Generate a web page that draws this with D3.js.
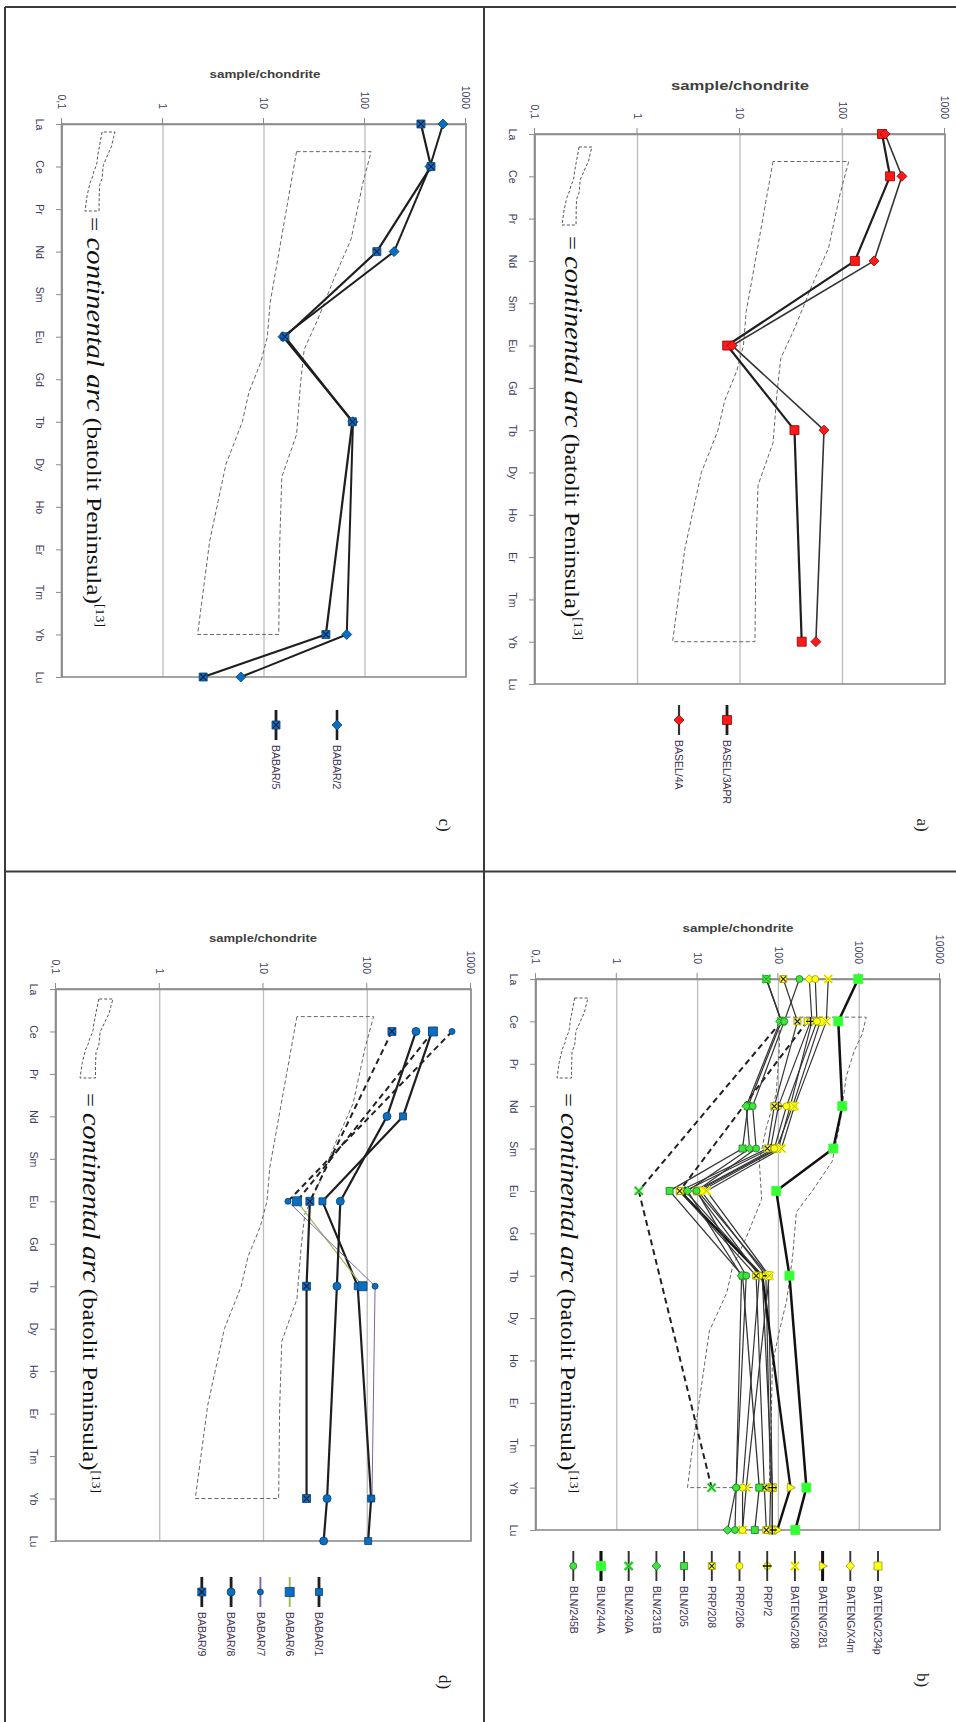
<!DOCTYPE html>
<html>
<head>
<meta charset="utf-8">
<script src="https://cdn.jsdelivr.net/npm/d3@7"></script>
<style>
  body { margin: 0; background: #fff; }
</style>
</head>
<body>
<div id="chart"></div>
<script>
/* global d3 */

// Page. The four charts are drawn upright and the page is turned a quarter turn
const width = 956,
  height = 1722

// Categories and tick labels
const ree = ['La', 'Ce', 'Pr', 'Nd', 'Sm', 'Eu', 'Gd', 'Tb', 'Dy', 'Ho', 'Er', 'Tm', 'Yb', 'Lu']
const valueTicks = [0.1, 1, 10, 100, 1000]
const valueTickLabels = ['0,1', '1', '10', '100', '1000']
const valueTicksB = [0.1, 1, 10, 100, 1000, 10000]
const valueTickLabelsB = ['0,1', '1', '10', '100', '1000', '10000']

// a) BASEL
const namesA = ['BASEL/3APR', 'BASEL/4A']
const basel3APR = [243, 291, null, 132, null, 7.5, null, 34, null, null, null, null, 40, null]
const basel4A = [260, 380, null, 203, null, 8.4, null, 66, null, null, null, null, 55, null]

// b) BLN / PRP / BATENG (legend order)
const namesB = ['BATENG/234p', 'BATENG/X4m', 'BATENG/281', 'BATENG/208', 'PRP/2', 'PRP/206',
  'PRP/208', 'BLN/205', 'BLN/231B', 'BLN/240A', 'BLN/244A', 'BLN/245B']
const bateng234p = [null, 330, null, 150, 95, 10, null, 75, null, null, null, null, 84, 84]
const batengX4m = [241, 260, null, 140, 100, 11, null, 70, null, null, null, null, 80, 78]
const bateng281 = [null, 228, null, null, null, 6.0, null, 63, null, null, null, null, 141, 97]
const bateng208 = [414, 392, null, 158, 109, 12.9, null, 77, null, null, null, null, 40, 36]
const prp2 = [null, 250, null, 100, 80, 7.0, null, 63, null, null, null, null, 84, 84]
const prp206 = [286, 300, null, 126, 89, 9.5, null, 58, null, null, null, null, 36, 36]
const prp208 = [115, 172, null, 89, 73, 6.0, null, 53, null, null, null, null, 67, 71]
const bln205 = [71, 109, null, 42, 36, 4.5, null, 36, null, null, null, null, 58, 51]
const bln231B = [null, 105, null, 40, 44, 7.5, null, 35, null, null, null, null, 30, 23.5]
const bln240A = [71, 109, null, null, null, 1.87, null, null, null, null, null, null, 14.9, null]
const bln244A = [972, 551, null, 617, 478, 94, null, 137, null, null, null, null, 222, 162]
const bln245B = [182, 118, null, 48, 53, 9.7, null, 40, null, null, null, null, 30, 29]

// c) BABAR/2, BABAR/5
const namesC = ['BABAR/2', 'BABAR/5']
const babar2 = [592, 440, null, 194, null, 15.4, null, 76, null, null, null, null, 66, 5.9]
const babar5 = [358, 450, null, 131, null, 16.1, null, 75, null, null, null, null, 41, 2.5]

// d) BABAR/1 .. BABAR/9
const namesD = ['BABAR/1', 'BABAR/6', 'BABAR/7', 'BABAR/8', 'BABAR/9']
const babar1 = [null, 421, null, 221, null, 37, null, 81, null, null, null, null, 109, 102]
const babar6 = [null, 430, null, null, null, 21, null, 90, null, null, null, null, null, null]
const babar7 = [null, 656, null, null, null, 17.2, null, 119, null, null, null, null, 111, null]
const babar8 = [null, 295, null, 155, null, 55, null, 51, null, null, null, null, 41, 38]
const babar9 = [null, 173, null, null, null, 28, null, 26, null, null, null, null, 26, null]

// continental arc field (batolit Peninsula), edges as [REE position, value]
const arcLowIdx = [0.65, 4.2, 5.0, 5.6, 6.3, 7.0, 8.0, 9.8, 12]
const arcLowVal = [21, 11.5, 10.8, 9.3, 7.1, 6.1, 4.2, 2.9, 2.2]
const arcHighIdx = [0.65, 1.4, 2.7, 3.6, 4.6, 5.3, 6.1, 7.3, 8.3, 9.9, 12]
const arcHighVal = [115, 95, 73, 50, 34, 25, 23, 21, 15, 14.3, 14]
// same field as it sits on the wider b) axis
const arcLowIdxB = [0.9, 1.6, 2.7, 3.5, 4.3, 5.2, 6.1, 6.8, 7.4, 8.3, 9.9, 11.0, 12]
const arcLowValB = [103, 103, 94, 71, 58, 62, 40, 27, 23, 14, 10.6, 8.7, 7.5]
const arcHighIdxB = [0.9, 1.3, 1.7, 2.3, 3.5, 4.3, 5.0, 5.5, 6.6, 7.6, 8.3, 9.1, 10.2, 12]
const arcHighValB = [1220, 1090, 867, 692, 566, 464, 263, 167, 149, 126, 103, 84, 82, 77]

// Styles
const red = { fill: '#ff1a1a', edge: '#8b0000' }
const blue = { fill: '#0a6fc2', edge: '#0b3d6b' }
const green = { fill: '#3ce63c', edge: '#1e7a1e' }
const yellow = { fill: '#ffff1a', edge: '#9a9a00' }

const st = (c, shape, size, line, lw, over) => ({ ...c, shape, size, line, lw, over })

const panels = [
  {
    x0: 134, x1: 684, yLow: 421, yHigh: 11, ticks: valueTicks, labels: valueTickLabels,
    names: namesA, values: [basel3APR, basel4A],
    styles: [st(red, 'square', 9, '#1e1e1e', 2.2), st(red, 'diamond', 8, '#333', 1.6)],
    arc: [arcLowIdx, arcLowVal, arcHighIdx, arcHighVal],
    title: { x: 90, y: 216, size: 13, len: 138 },
    legend: { x: 705, top: 229, step: 48 },
    note: { x: 236, y: 391, len: 404 },
    icon: { x0: 147, x1: 225, yLow: 394, yHigh: 364 },
    tag: { x: 825, y: 39, text: 'a)' }
  },
  {
    x0: 979, x1: 1530, yLow: 420, yHigh: 16, ticks: valueTicksB, labels: valueTickLabelsB,
    names: namesB,
    values: [bateng234p, batengX4m, bateng281, bateng208, prp2, prp206, prp208, bln205, bln231B, bln240A, bln244A, bln245B],
    styles: [
      st(yellow, 'square', 8, '#333', 1.2),
      st(yellow, 'diamond', 7, '#333', 1.2),
      st(yellow, 'triangle', 8, '#111', 2.4),
      st(yellow, null, 8, '#333', 1.2, 'x'),
      st(yellow, 'circle', 7, '#333', 1.2, 'plus'),
      st(yellow, 'circle', 7, '#333', 1.2),
      st(yellow, 'square', 7, '#333', 1.2, 'xs'),
      st(green, 'square', 7, '#333', 1.3),
      st(green, 'diamond', 7, '#333', 1.2),
      st(green, null, 8, '#333', 1.4, 'x'),
      st({ fill: '#33ff33', edge: '#33ff33' }, 'square', 9, '#111', 2.5),
      st(green, 'circle', 7, '#333', 1.2)
    ],
    arc: [arcLowIdxB, arcLowValB, arcHighIdxB, arcHighValB],
    title: { x: 932, y: 218, size: 11, len: 111 },
    legend: { x: 1551, top: 78, step: 27.7 },
    note: { x: 1093, y: 395, len: 400 },
    icon: { x0: 998, x1: 1078, yLow: 399, yHigh: 368 },
    tag: { x: 1680, y: 39, text: 'b)' }
  },
  {
    x0: 124, x1: 677, yLow: 894, yHigh: 490, ticks: valueTicks, labels: valueTickLabels,
    names: namesC, values: [babar2, babar5],
    styles: [st(blue, 'diamond', 8, '#1e1e1e', 2), st(blue, 'square', 8, '#1e1e1e', 2.2, 'xs')],
    arc: [arcLowIdx, arcLowVal, arcHighIdx, arcHighVal],
    title: { x: 78, y: 691, size: 11, len: 111 },
    legend: { x: 710, top: 619, step: 61 },
    note: { x: 217, y: 869, len: 410 },
    icon: { x0: 132, x1: 211, yLow: 871, yHigh: 841 },
    tag: { x: 825, y: 517, text: 'c)' }
  },
  {
    x0: 989, x1: 1541, yLow: 900, yHigh: 485, ticks: valueTicks, labels: valueTickLabels,
    names: namesD, values: [babar1, babar6, babar7, babar8, babar9],
    styles: [
      st(blue, 'square', 7, '#1e1e1e', 2.2),
      st(blue, 'square', 9, '#9bbb59', 1.2),
      st(blue, 'circle', 6, '#8064a2', 1),
      st(blue, 'circle', 8, '#1e1e1e', 2.2),
      st(blue, 'square', 8, '#1e1e1e', 2.2, 'xs')
    ],
    arc: [arcLowIdx, arcLowVal, arcHighIdx, arcHighVal],
    title: { x: 942, y: 693, size: 11, len: 108 },
    legend: { x: 1577, top: 637, step: 29.3 },
    note: { x: 1093, y: 873, len: 400 },
    icon: { x0: 999, x1: 1078, yLow: 876, yHigh: 843 },
    tag: { x: 1682, y: 517, text: 'd)' }
  }
]

// Drawing area
const svg = d3.select('#chart')
  .append('svg')
  .attr('width', width)
  .attr('height', height)
  .style('background', '#fff')

const page = svg.append('g')
  .attr('transform', `translate(${width},0) rotate(90)`)

// page frame
const frame = page.append('g').attr('stroke', '#3a3a3a').attr('stroke-width', 2)
frame.append('line').attr('x1', 7).attr('x2', 7).attr('y1', 0).attr('y2', 951)
frame.append('line').attr('x1', 871.5).attr('x2', 871.5).attr('y1', 0).attr('y2', 951)
frame.append('line').attr('x1', 7).attr('x2', height).attr('y1', 951).attr('y2', 951)
frame.append('line').attr('x1', 7).attr('x2', height).attr('y1', 472).attr('y2', 472)

const shapePath = (shape, s) => {
  const h = s / 2
  if (shape === 'square') return `M${-h},${-h}H${h}V${h}H${-h}Z`
  if (shape === 'diamond') {
    const r = h * 1.25
    return `M0,${-r}L${r},0L0,${r}L${-r},0Z`
  }
  if (shape === 'circle') return `M${-h},0A${h},${h} 0 1,0 ${h},0A${h},${h} 0 1,0 ${-h},0Z`
  if (shape === 'triangle') return `M0,${-h * 1.2}L${h * 1.1},${h * 0.8}L${-h * 1.1},${h * 0.8}Z`
  return null
}

const drawMarker = (g, s) => {
  const d = shapePath(s.shape, s.size)
  if (d) g.append('path').attr('d', d).attr('fill', s.fill).attr('stroke', s.edge).attr('stroke-width', 0.8)
  const h = s.size / 2
  if (s.over === 'x') {
    const p = `M${-h},${-h}L${h},${h}M${h},${-h}L${-h},${h}`
    g.append('path').attr('d', p).attr('stroke', s.fill).attr('stroke-width', 2.6)
    g.append('path').attr('d', p).attr('stroke', s.edge).attr('stroke-width', 0.7)
  }
  if (s.over === 'xs') {
    const k = h * 0.75
    g.append('path').attr('d', `M${-k},${-k}L${k},${k}M${k},${-k}L${-k},${k}`)
      .attr('stroke', '#1a1a3a').attr('stroke-width', 1.1)
  }
  if (s.over === 'plus') {
    g.append('path').attr('d', `M${-h - 1},0H${h + 1}M0,${-h - 1}V${h + 1}`)
      .attr('stroke', '#111').attr('stroke-width', 1.4)
  }
}

// redraw one panel
const drawPanel = (p) => {
  const g = page.append('g')
  const x = d3.scaleLinear().domain([0, ree.length - 1]).range([p.x0, p.x1])
  const y = d3.scaleLog().domain([p.ticks[0], p.ticks[p.ticks.length - 1]]).range([p.yLow, p.yHigh])

  // gridlines
  g.append('g').selectAll('line')
    .data(p.ticks)
    .join('line')
    .attr('x1', p.x0).attr('x2', p.x1)
    .attr('y1', d => y(d)).attr('y2', d => y(d))
    .attr('stroke', '#bdbdbd').attr('stroke-width', 1.3)

  g.append('rect')
    .attr('x', p.x0).attr('y', p.yHigh)
    .attr('width', p.x1 - p.x0).attr('height', p.yLow - p.yHigh)
    .attr('fill', 'none').attr('stroke', '#8c8c8c').attr('stroke-width', 1.6)

  // value axis
  const yAxis = g.append('g')
    .attr('transform', `translate(${p.x0},0)`)
    .call(d3.axisLeft(y).tickValues(p.ticks).tickFormat((d, i) => p.labels[i]).tickSize(6).tickSizeOuter(0).tickPadding(9))
  // category axis
  const xAxis = g.append('g')
    .attr('transform', `translate(0,${p.yLow})`)
    .call(d3.axisBottom(x).tickValues(d3.range(ree.length)).tickFormat(i => ree[i]).tickSize(6).tickSizeOuter(0).tickPadding(13))
  for (const a of [xAxis, yAxis]) {
    a.select('.domain').attr('stroke', '#8c8c8c').attr('stroke-width', 1.6)
    a.selectAll('.tick line').attr('stroke', '#8c8c8c')
    a.selectAll('text').attr('font-family', 'Liberation Sans, Arial, sans-serif')
      .attr('font-size', 10.5).attr('fill', '#3c3c5c')
  }

  // axis title
  g.append('text')
    .attr('transform', `translate(${p.title.x},${p.title.y}) rotate(-90)`)
    .attr('text-anchor', 'middle')
    .attr('font-family', 'Liberation Sans, Arial, sans-serif')
    .attr('font-weight', 'bold')
    .attr('font-size', p.title.size)
    .attr('fill', '#404040')
    .attr('textLength', p.title.len)
    .attr('lengthAdjust', 'spacingAndGlyphs')
    .text('sample/chondrite')

  // continental arc field
  const [li, lv, hi, hv] = p.arc
  const field = li.map((d, i) => [d, lv[i]]).concat(hi.map((d, i) => [d, hv[i]]).reverse())
  g.append('path')
    .attr('d', d3.line().x(d => x(d[0])).y(d => y(d[1]))(field) + 'Z')
    .attr('fill', 'none').attr('stroke', '#666').attr('stroke-width', 1)
    .attr('stroke-dasharray', '4,2.5')

  // lines: a gap over a REE that other samples have is bridged with a dashed line
  p.values.forEach((vals, k) => {
    const s = p.styles[k]
    const pts = vals.map((v, i) => v == null ? null : [i, v]).filter(Boolean)
    d3.pairs(pts).forEach(([a, b]) => {
      const dashed = d3.range(a[0] + 1, b[0]).some(i => p.values.some(o => o[i] != null))
      g.append('line')
        .attr('x1', x(a[0])).attr('y1', y(a[1]))
        .attr('x2', x(b[0])).attr('y2', y(b[1]))
        .attr('stroke', dashed ? '#222' : s.line)
        .attr('stroke-width', dashed ? 2 : s.lw)
        .attr('stroke-dasharray', dashed ? '6,4' : null)
    })
  })

  // markers
  p.values.forEach((vals, k) => {
    vals.forEach((v, i) => {
      if (v == null) return
      drawMarker(g.append('g').attr('transform', `translate(${x(i)},${y(v)})`), p.styles[k])
    })
  })

  // legend
  p.names.forEach((name, k) => {
    const s = p.styles[k]
    const ly = p.legend.top + k * p.legend.step
    const lg = g.append('g').attr('transform', `translate(${p.legend.x},${ly})`)
    lg.append('line').attr('x1', 0).attr('x2', 30)
      .attr('stroke', s.line).attr('stroke-width', Math.max(s.lw, 1.3) + 0.6)
    drawMarker(lg.append('g').attr('transform', 'translate(15,0)'), s)
    lg.append('text')
      .attr('x', 35).attr('dy', '0.35em')
      .attr('font-family', 'Liberation Sans, Arial, sans-serif')
      .attr('font-size', 10.5).attr('fill', '#3a3050')
      .text(name)
  })

  // key: small copy of the field, then its caption
  const ix = d3.scaleLinear().domain([arcLowIdx[0], arcLowIdx[arcLowIdx.length - 1]]).range([p.icon.x0, p.icon.x1])
  const iy = d3.scaleLinear().domain([Math.log10(2.2), Math.log10(115)]).range([p.icon.yLow, p.icon.yHigh])
  const key = arcLowIdx.map((d, i) => [d, arcLowVal[i]])
    .concat(arcHighIdx.map((d, i) => [d, arcHighVal[i]]).reverse())
  g.append('path')
    .attr('d', d3.line().x(d => ix(d[0])).y(d => iy(Math.log10(d[1])))(key) + 'Z')
    .attr('fill', 'none').attr('stroke', '#555').attr('stroke-width', 1)
    .attr('stroke-dasharray', '3,2')

  const note = g.append('text')
    .attr('x', p.note.x).attr('y', p.note.y)
    .attr('font-family', 'Liberation Serif, Times New Roman, serif')
    .attr('font-size', 22).attr('fill', '#111')
    .attr('textLength', p.note.len)
    .attr('lengthAdjust', 'spacingAndGlyphs')
  note.append('tspan').text('= ')
  note.append('tspan').attr('font-style', 'italic').attr('font-size', 25).text('continental arc')
  note.append('tspan').text(' (batolit Peninsula)')
  note.append('tspan').attr('font-size', 12).attr('dy', -9).text('[13]')

  // panel tag
  g.append('text')
    .attr('x', p.tag.x).attr('y', p.tag.y)
    .attr('text-anchor', 'middle')
    .attr('font-family', 'Liberation Serif, Times New Roman, serif')
    .attr('font-size', 17).attr('fill', '#222')
    .text(p.tag.text)
}

panels.forEach(drawPanel)
</script>
</body>
</html>
